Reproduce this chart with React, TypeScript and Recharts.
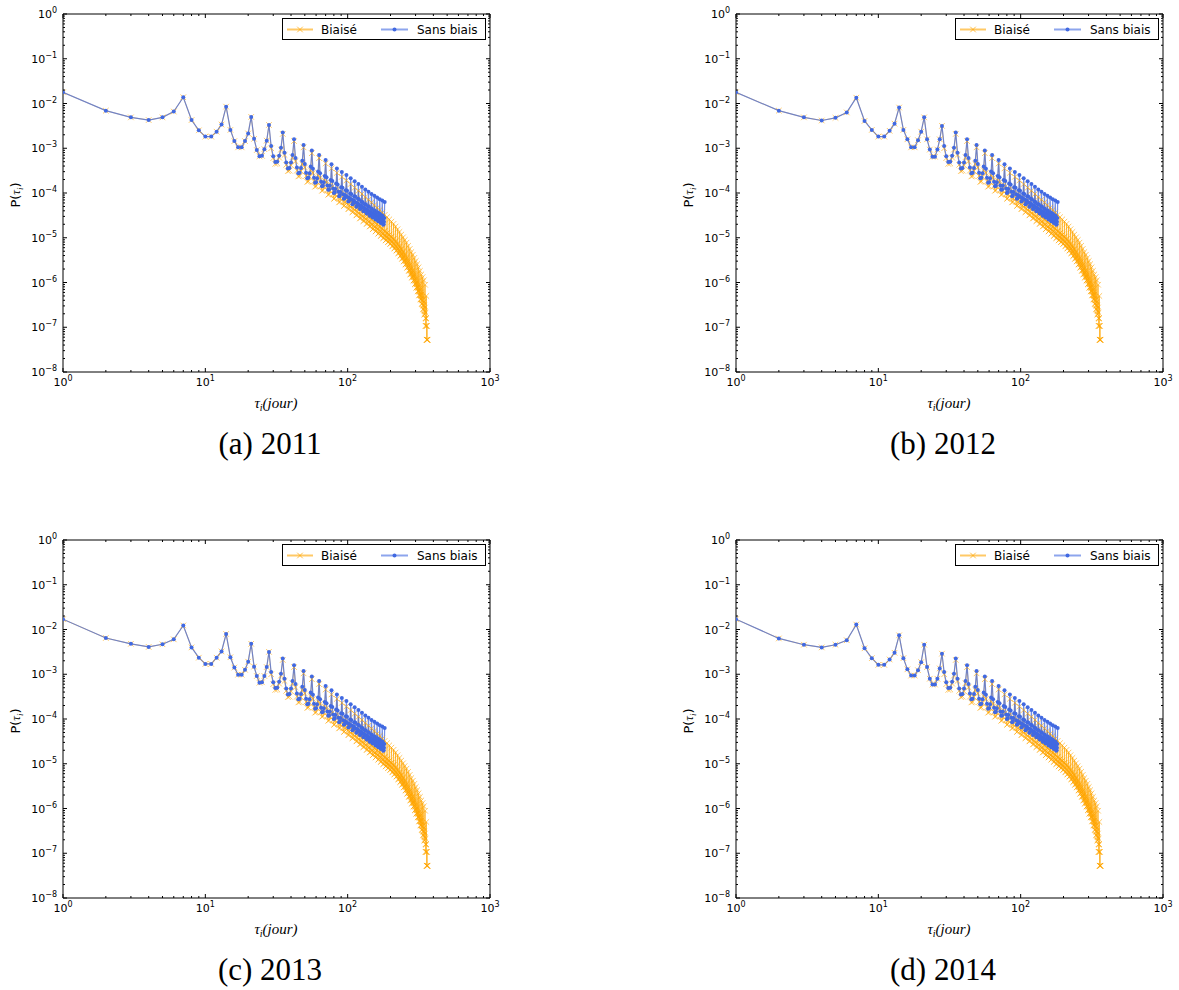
import React from 'react';
import { LineChart, Line, XAxis, YAxis } from 'recharts';

// ---------- DATA (log10 of P(tau)), tau in days ----------
// per-year first 28 days (both series coincide there)
const head2011 = [-1.75,-2.16,-2.31,-2.37,-2.31,-2.18,-1.86,-2.37,-2.60,-2.74,-2.74,-2.63,-2.47,-2.07,-2.59,-2.84,-2.98,-2.98,-2.84,-2.67,-2.30,-2.79,-3.04,-3.18,-3.17,-3.02,-2.83,-2.48];
const head2012 = [-1.75,-2.16,-2.31,-2.38,-2.32,-2.20,-1.87,-2.39,-2.59,-2.74,-2.74,-2.61,-2.45,-2.09,-2.59,-2.80,-2.98,-2.98,-2.82,-2.63,-2.31,-2.80,-3.03,-3.19,-3.19,-3.03,-2.80,-2.50];
const head2013 = [-1.77,-2.19,-2.32,-2.39,-2.33,-2.22,-1.91,-2.40,-2.63,-2.77,-2.77,-2.63,-2.49,-2.10,-2.62,-2.85,-3.01,-3.01,-2.90,-2.72,-2.32,-2.83,-3.04,-3.19,-3.18,-3.04,-2.84,-2.50];
const head2014 = [-1.77,-2.20,-2.34,-2.40,-2.34,-2.24,-1.89,-2.42,-2.64,-2.79,-2.79,-2.67,-2.52,-2.13,-2.64,-2.89,-3.03,-3.03,-2.91,-2.73,-2.34,-2.84,-3.10,-3.23,-3.23,-3.10,-2.87,-2.54];

// "Sans biais", tau = 29..182
const sansBiaisTail = [
  -2.95,-3.18,-3.31,-3.30,-3.17,-2.99,-2.65,
  -3.10,-3.32,-3.45,-3.44,-3.32,-3.15,-2.80,
  -3.22,-3.43,-3.56,-3.55,-3.44,-3.28,-2.93,
  -3.35,-3.55,-3.67,-3.66,-3.56,-3.41,-3.05,
  -3.46,-3.66,-3.77,-3.76,-3.67,-3.52,-3.15,
  -3.56,-3.75,-3.85,-3.84,-3.76,-3.62,-3.26,
  -3.65,-3.83,-3.93,-3.92,-3.84,-3.71,-3.36,
  -3.73,-3.90,-4.00,-3.99,-3.91,-3.79,-3.45,
  -3.81,-3.97,-4.07,-4.06,-3.98,-3.87,-3.53,
  -3.88,-4.03,-4.13,-4.12,-4.05,-3.94,-3.60,
  -3.95,-4.09,-4.19,-4.18,-4.11,-4.01,-3.67,
  -4.02,-4.15,-4.25,-4.24,-4.17,-4.07,-3.74,
  -4.08,-4.21,-4.31,-4.30,-4.23,-4.13,-3.80,
  -4.14,-4.27,-4.36,-4.35,-4.28,-4.19,-3.86,
  -4.20,-4.32,-4.41,-4.40,-4.34,-4.25,-3.92,
  -4.25,-4.37,-4.46,-4.45,-4.39,-4.30,-3.97,
  -4.30,-4.42,-4.51,-4.50,-4.44,-4.35,-4.02,
  -4.35,-4.46,-4.55,-4.54,-4.48,-4.40,-4.06,
  -4.39,-4.50,-4.59,-4.58,-4.52,-4.44,-4.10,
  -4.43,-4.54,-4.63,-4.62,-4.56,-4.48,-4.14,
  -4.47,-4.58,-4.67,-4.66,-4.60,-4.52,-4.17,
  -4.51,-4.62,-4.71,-4.70,-4.64,-4.56,-4.20,
];

// "Biaisé", tau = 29..364
const biaiseTail = [
  -3.00,-3.22,-3.35,-3.34,-3.21,-3.03,-2.68,
  -3.15,-3.37,-3.51,-3.50,-3.38,-3.20,-2.84,
  -3.29,-3.50,-3.63,-3.62,-3.51,-3.35,-2.98,
  -3.43,-3.62,-3.75,-3.74,-3.64,-3.49,-3.11,
  -3.55,-3.74,-3.86,-3.85,-3.76,-3.61,-3.22,
  -3.66,-3.84,-3.95,-3.94,-3.86,-3.72,-3.34,
  -3.76,-3.93,-4.04,-4.03,-3.95,-3.82,-3.45,
  -3.86,-4.02,-4.13,-4.12,-4.04,-3.92,-3.55,
  -3.95,-4.10,-4.21,-4.20,-4.12,-4.01,-3.64,
  -4.04,-4.19,-4.29,-4.28,-4.20,-4.10,-3.72,
  -4.12,-4.26,-4.36,-4.35,-4.28,-4.18,-3.80,
  -4.20,-4.33,-4.43,-4.42,-4.35,-4.25,-3.88,
  -4.27,-4.40,-4.50,-4.49,-4.42,-4.32,-3.95,
  -4.34,-4.47,-4.57,-4.56,-4.49,-4.39,-4.02,
  -4.41,-4.53,-4.63,-4.62,-4.55,-4.46,-4.09,
  -4.47,-4.59,-4.69,-4.68,-4.61,-4.52,-4.15,
  -4.53,-4.65,-4.75,-4.74,-4.67,-4.58,-4.21,
  -4.59,-4.71,-4.81,-4.80,-4.73,-4.64,-4.27,
  -4.65,-4.76,-4.86,-4.85,-4.78,-4.70,-4.33,
  -4.70,-4.81,-4.91,-4.90,-4.83,-4.75,-4.38,
  -4.75,-4.86,-4.96,-4.95,-4.88,-4.80,-4.44,
  -4.80,-4.91,-5.01,-5.00,-4.93,-4.85,-4.49,
  -4.85,-4.96,-5.06,-5.05,-4.98,-4.90,-4.54,
  -4.89,-5.00,-5.10,-5.09,-5.02,-4.94,-4.59,
  -4.93,-5.04,-5.14,-5.13,-5.06,-4.98,-4.64,
  -4.98,-5.09,-5.19,-5.18,-5.11,-5.03,-4.69,
  -5.03,-5.14,-5.24,-5.23,-5.16,-5.08,-4.75,
  -5.08,-5.19,-5.29,-5.28,-5.21,-5.13,-4.81,
  -5.14,-5.25,-5.35,-5.34,-5.27,-5.19,-4.87,
  -5.20,-5.31,-5.41,-5.40,-5.33,-5.25,-4.93,
  -5.26,-5.37,-5.47,-5.46,-5.39,-5.31,-4.99,
  -5.32,-5.43,-5.53,-5.52,-5.45,-5.37,-5.05,
  -5.39,-5.50,-5.60,-5.59,-5.52,-5.44,-5.11,
  -5.46,-5.57,-5.67,-5.66,-5.59,-5.51,-5.18,
  -5.53,-5.64,-5.74,-5.73,-5.66,-5.58,-5.25,
  -5.61,-5.72,-5.82,-5.81,-5.74,-5.66,-5.32,
  -5.68,-5.79,-5.89,-5.88,-5.81,-5.73,-5.38,
  -5.75,-5.86,-5.96,-5.95,-5.88,-5.80,-5.45,
  -5.83,-5.94,-6.04,-6.03,-5.96,-5.88,-5.52,
  -5.91,-6.02,-6.12,-6.11,-6.04,-5.96,-5.59,
  -5.99,-6.10,-6.20,-6.19,-6.12,-6.04,-5.66,
  -6.08,-6.19,-6.29,-6.28,-6.21,-6.13,-5.74,
  -6.17,-6.28,-6.38,-6.37,-6.30,-6.22,-5.82,
  -6.27,-6.38,-6.48,-6.47,-6.40,-6.32,-5.88,
  -6.39,-6.50,-6.60,-6.59,-6.52,-6.44,-5.95,
  -6.51,-6.62,-6.72,-6.71,-6.64,-6.56,-6.05,
  -6.67,-6.80,-6.97,-6.97,-6.80,-6.80,-6.30,
  -6.97,-7.28,-7.28,-6.97,-7.28,-7.28,-7.28,
];

const heads = [head2011, head2012, head2013, head2014];
const captions = ['(a) 2011', '(b) 2012', '(c) 2013', '(d) 2014'];
const panelOffsets = [[0, 0], [673, 0], [0, 526], [673, 526]];

const xMajorTicks = [1, 10, 100, 1000];
const yMajorTicks = [1e-8, 1e-7, 1e-6, 1e-5, 1e-4, 1e-3, 1e-2, 1e-1, 1];
const minorMultipliers = [2, 3, 4, 5, 6, 7, 8, 9];

const withMinors = (majors: number[]) => {
  const out: number[] = [];
  majors.forEach((m, i) => {
    out.push(m);
    if (i < majors.length - 1) minorMultipliers.forEach((k) => out.push(m * k));
  });
  return out;
};
const xTicks = withMinors(xMajorTicks);
const yTicks = withMinors(yMajorTicks);

const toSeries = (logs: number[]) => logs.map((v, i) => ({ tau: i + 1, p: Math.pow(10, v) }));

// ---------- STYLE ----------
const ORANGE = '#FFA500';
const BLUE = '#4169E1';
const SANS = '"DejaVu Sans", sans-serif';
const SERIF = '"Liberation Serif", "DejaVu Serif", serif';

const isMajor = (v: number) => Math.abs(Math.log10(v) - Math.round(Math.log10(v))) < 1e-6;
const expStr = (v: number) => {
  const e = Math.round(Math.log10(v));
  return e < 0 ? '\u2212' + Math.abs(e) : String(e);
};

const PowText = ({ x, y, v, anchor }: any) => (
  <text x={x} y={y} textAnchor={anchor} fontFamily={SANS} fontSize={11} fill="#000">
    10<tspan dy={-5} fontSize={8}>{expStr(v)}</tspan>
  </text>
);

const BottomTick = (p: any) => {
  const { x, y, payload } = p;
  const v = payload.value;
  const M = isMajor(v);
  return (
    <g>
      <line x1={x} x2={x} y1={y} y2={y - (M ? 4 : 2)} stroke="#000" strokeWidth={1} />
      {M && <PowText x={x} y={y + 14} v={v} anchor="middle" />}
    </g>
  );
};
const TopTick = (p: any) => {
  const { x, y, payload } = p;
  const M = isMajor(payload.value);
  return <line x1={x} x2={x} y1={y} y2={y + (M ? 4 : 2)} stroke="#000" strokeWidth={1} />;
};
const LeftTick = (p: any) => {
  const { x, y, payload } = p;
  const v = payload.value;
  const M = isMajor(v);
  return (
    <g>
      <line x1={x} x2={x + (M ? 4 : 2)} y1={y} y2={y} stroke="#000" strokeWidth={1} />
      {M && <PowText x={x - 6} y={y + 4} v={v} anchor="end" />}
    </g>
  );
};
const RightTick = (p: any) => {
  const { x, y, payload } = p;
  const M = isMajor(payload.value);
  return <line x1={x} x2={x - (M ? 4 : 2)} y1={y} y2={y} stroke="#000" strokeWidth={1} />;
};

const CrossDot = (p: any) => {
  const { cx, cy, index } = p;
  if (cx == null || cy == null) return <g key={'x' + index} />;
  const s = 2.8;
  return (
    <path
      key={'x' + index}
      d={`M${cx - s},${cy - s}L${cx + s},${cy + s}M${cx - s},${cy + s}L${cx + s},${cy - s}`}
      stroke={ORANGE}
      strokeOpacity={0.6}
      strokeWidth={1}
      fill="none"
    />
  );
};
const BlueDot = (p: any) => {
  const { cx, cy, index } = p;
  if (cx == null || cy == null) return <g key={'b' + index} />;
  return <circle key={'b' + index} cx={cx} cy={cy} r={2} fill={BLUE} />;
};

const W = 520;
const H = 420;

const Panel = ({ head, caption, left, top }: any) => {
  const biaise = toSeries([...head, ...biaiseTail]);
  const sans = toSeries([...head, ...sansBiaisTail]);
  const axisCommon = { stroke: '#000', strokeWidth: 1 };
  return (
    <div style={{ position: 'absolute', left, top, width: W, height: 470 }}>
      <LineChart width={W} height={H} margin={{ top: 13, right: 29, bottom: 8, left: 13 }}>
        <XAxis xAxisId="b" dataKey="tau" type="number" scale="log" domain={[1, 1000]} allowDataOverflow
          ticks={xTicks} interval={0} tick={BottomTick} tickLine={false} tickSize={0} tickMargin={0}
          height={40} axisLine={axisCommon} />
        <XAxis xAxisId="t" orientation="top" dataKey="tau" type="number" scale="log" domain={[1, 1000]} allowDataOverflow
          ticks={xTicks} interval={0} tick={TopTick} tickLine={false} tickSize={0} tickMargin={0}
          height={1} axisLine={axisCommon} />
        <YAxis yAxisId="l" dataKey="p" type="number" scale="log" domain={[1e-8, 1]} allowDataOverflow
          ticks={yTicks} interval={0} tick={LeftTick} tickLine={false} tickSize={0} tickMargin={0}
          width={50} axisLine={axisCommon} />
        <YAxis yAxisId="r" orientation="right" dataKey="p" type="number" scale="log" domain={[1e-8, 1]} allowDataOverflow
          ticks={yTicks} interval={0} tick={RightTick} tickLine={false} tickSize={0} tickMargin={0}
          width={1} axisLine={axisCommon} />
        <Line xAxisId="b" yAxisId="l" data={biaise} dataKey="p" name="Biaisé" type="linear"
          stroke={ORANGE} strokeOpacity={0.6} strokeWidth={1} dot={CrossDot} activeDot={false}
          isAnimationActive={false} />
        <Line xAxisId="b" yAxisId="l" data={sans} dataKey="p" name="Sans biais" type="linear"
          stroke={BLUE} strokeOpacity={0.75} strokeWidth={1.2} dot={BlueDot} activeDot={false}
          isAnimationActive={false} />
      </LineChart>

      {/* legend */}
      <div style={{ position: 'absolute', left: 282, top: 18, width: 202, height: 20, border: '1px solid #000',
        background: '#fff', fontFamily: SANS, fontSize: 12, color: '#000' }}>
        <svg width={202} height={20} style={{ position: 'absolute', left: 0, top: 0 }}>
          <line x1={4} x2={30} y1={10.5} y2={10.5} stroke={ORANGE} strokeOpacity={0.6} strokeWidth={2} />
          <path d="M14.2,7.7L19.8,13.3M14.2,13.3L19.8,7.7" stroke={ORANGE} strokeOpacity={0.7} strokeWidth={1} />
          <line x1={98} x2={125} y1={10.5} y2={10.5} stroke={BLUE} strokeOpacity={0.6} strokeWidth={2} />
          <circle cx={111.5} cy={10.5} r={2} fill={BLUE} />
          <text x={38} y={15} fontFamily={SANS} fontSize={12} fill="#000">Biaisé</text>
          <text x={134} y={15} fontFamily={SANS} fontSize={12} fill="#000">Sans biais</text>
        </svg>
      </div>

      {/* axis labels */}
      <div style={{ position: 'absolute', left: 226, top: 395, width: 100, textAlign: 'center',
        fontFamily: SERIF, fontStyle: 'italic', fontSize: 15, lineHeight: '16px', color: '#000' }}>
        τ<sub style={{ fontSize: 10, verticalAlign: '-3px' }}>i</sub>(jour)
      </div>
      <div style={{ position: 'absolute', left: 18, top: 193, width: 0, height: 0 }}>
        <div style={{ position: 'absolute', left: -40, top: -8, width: 80, textAlign: 'center',
          transform: 'rotate(-90deg)', fontFamily: SANS, fontSize: 13, lineHeight: '16px', color: '#000',
          whiteSpace: 'nowrap' }}>
          P(<span style={{ fontFamily: SERIF, fontStyle: 'italic' }}>τ</span>
          <sub style={{ fontFamily: SERIF, fontStyle: 'italic', fontSize: 9, verticalAlign: '-3px' }}>i</sub>)
        </div>
      </div>

      {/* caption */}
      <div style={{ position: 'absolute', left: 170, top: 428, width: 200, textAlign: 'center',
        fontFamily: SERIF, fontSize: 31, lineHeight: '31px', color: '#000', whiteSpace: 'nowrap' }}>
        {caption}
      </div>
    </div>
  );
};

export default function App() {
  return (
    <div style={{ position: 'absolute', left: 0, top: 0, width: 1179, height: 990, background: '#fff', overflow: 'hidden' }}>
      {heads.map((h, i) => (
        <Panel key={i} head={h} caption={captions[i]} left={panelOffsets[i][0]} top={panelOffsets[i][1]} />
      ))}
    </div>
  );
}
